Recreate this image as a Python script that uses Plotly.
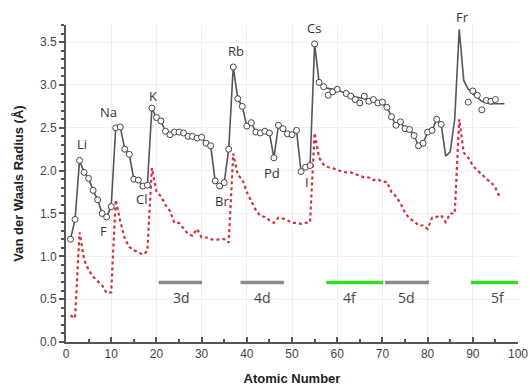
import plotly.graph_objects as go

# Atomic numbers with measured van der Waals radii (open circles)
z_meas = list(range(1, 61)) + list(range(62, 84)) + list(range(89, 96))
r_meas = [1.20, 1.43, 2.12, 1.98, 1.91, 1.77, 1.66, 1.50, 1.46, 1.58,
          2.50, 2.51, 2.25, 2.19, 1.90, 1.89, 1.82, 1.83,
          2.73, 2.62, 2.58, 2.46, 2.42, 2.45, 2.45, 2.44, 2.40, 2.40, 2.38, 2.39,
          2.32, 2.29, 1.88, 1.82, 1.86, 2.25,
          3.21, 2.84, 2.75, 2.52, 2.56, 2.45, 2.44, 2.46, 2.44, 2.15, 2.53, 2.49,
          2.43, 2.42, 2.47, 1.99, 2.04, 2.06,
          3.48, 3.03, 2.98, 2.88, 2.92, 2.95,
          2.90, 2.87, 2.83, 2.79, 2.87, 2.81, 2.83, 2.79, 2.80, 2.74,
          2.63, 2.53, 2.57, 2.49, 2.48, 2.41, 2.29, 2.32, 2.45,
          2.47, 2.60, 2.54,
          2.80, 2.93, 2.88, 2.71, 2.82, 2.81, 2.83]

# Solid curve
z_line = list(range(1, 98))
r_line = [1.20, 1.43, 2.12, 1.98, 1.91, 1.77, 1.66, 1.50, 1.46, 1.58,
          2.50, 2.51, 2.25, 2.19, 1.90, 1.89, 1.82, 1.83,
          2.73, 2.62, 2.58, 2.46, 2.42, 2.45, 2.45, 2.44, 2.40, 2.40, 2.38, 2.39,
          2.32, 2.29, 1.88, 1.82, 1.86, 2.25,
          3.21, 2.84, 2.75, 2.52, 2.56, 2.45, 2.44, 2.46, 2.44, 2.15, 2.53, 2.49,
          2.43, 2.42, 2.47, 1.99, 2.04, 2.06,
          3.48, 3.03, 2.98, 2.96, 2.95, 2.94, 2.92, 2.90, 2.88, 2.86, 2.85, 2.84,
          2.83, 2.82, 2.80, 2.78, 2.74,
          2.63, 2.53, 2.57, 2.49, 2.48, 2.41, 2.29, 2.32, 2.45,
          2.47, 2.60, 2.54, 2.17, 2.22, 2.60, 3.65, 3.05,
          2.95, 2.90, 2.85, 2.81, 2.79, 2.78, 2.78, 2.78, 2.78]

# Covalent radii (red dotted)
z_cov = list(range(1, 97))
r_cov = [0.31, 0.28, 1.28, 0.96, 0.84, 0.76, 0.71, 0.66, 0.57, 0.58,
         1.66, 1.41, 1.21, 1.11, 1.07, 1.05, 1.02, 1.06,
         2.03, 1.76, 1.70, 1.60, 1.53, 1.39, 1.39, 1.32, 1.26, 1.24, 1.32, 1.22,
         1.22, 1.20, 1.19, 1.20, 1.20, 1.16,
         2.20, 1.95, 1.90, 1.75, 1.64, 1.54, 1.47, 1.46, 1.42, 1.39, 1.45, 1.44,
         1.42, 1.39, 1.39, 1.38, 1.39, 1.40,
         2.44, 2.15, 2.07, 2.04, 2.03, 2.01, 1.99, 1.98, 1.98, 1.96, 1.94, 1.92,
         1.92, 1.89, 1.90, 1.87, 1.87,
         1.75, 1.70, 1.62, 1.51, 1.44, 1.41, 1.36, 1.36, 1.32,
         1.45, 1.46, 1.48, 1.40, 1.50, 1.50,
         2.60, 2.21, 2.15, 2.06, 2.00, 1.96, 1.90, 1.87, 1.80, 1.69]

# Element labels
lab_text = ["Li", "Na", "K", "Rb", "Cs", "Fr", "F", "Cl", "Br", "Pd", "I"]
lab_x = [3.5, 9.5, 19.3, 37.5, 54.9, 87.7, 8.4, 16.7, 34.6, 45.6, 53.3]
lab_y = [2.31, 2.68, 2.87, 3.40, 3.67, 3.79, 1.29, 1.67, 1.64, 1.97, 1.87]

# Shell bars
bar_names = ["3d", "4d", "4f", "5d", "5f"]
bar_start = [20.5, 38.6, 57.6, 70.6, 89.6]
bar_end = [30.1, 48.2, 70.2, 80.3, 100.0]
bar_colors = ["#8a8a8a", "#8a8a8a", "#33dd22", "#8a8a8a", "#33dd22"]
bar_label_x = [25.6, 43.4, 62.8, 75.4, 95.6]
bar_y = 0.695
bar_label_y = 0.52

Y_MAX = 3.7

fig = go.Figure()

fig.add_trace(go.Scatter(x=z_cov, y=r_cov, mode="lines",
                         line=dict(color="#d0303a", width=2.2, dash="dot"),
                         showlegend=False))
fig.add_trace(go.Scatter(x=z_line, y=r_line, mode="lines",
                         line=dict(color="#555555", width=1.6),
                         showlegend=False))
fig.add_trace(go.Scatter(x=z_meas, y=r_meas, mode="markers",
                         marker=dict(symbol="circle", size=6, color="white",
                                     line=dict(color="#444444", width=1)),
                         showlegend=False))

for s, e, c in zip(bar_start, bar_end, bar_colors):
    fig.add_trace(go.Scatter(x=[s, e], y=[bar_y, bar_y], mode="lines",
                             line=dict(color=c, width=3.5), showlegend=False))

for t, x, y in zip(bar_names, bar_label_x, [bar_label_y] * len(bar_names)):
    fig.add_annotation(x=x, y=y, text=t, showarrow=False,
                       font=dict(size=14, color="#444444", family="Open Sans"))

for t, x, y in zip(lab_text, lab_x, lab_y):
    if y > Y_MAX:
        # above the plotting area: place in paper coordinates so it is not hidden
        fig.add_annotation(x=x, y=y / Y_MAX, yref="paper", yanchor="middle",
                           text=t, showarrow=False,
                           font=dict(size=13, color="#333333", family="Open Sans"))
    else:
        fig.add_annotation(x=x, y=y, text=t, showarrow=False,
                           font=dict(size=13, color="#333333", family="Open Sans"))

fig.update_layout(
    width=530, height=388,
    margin=dict(l=66, r=12, t=25, b=46, autoexpand=False),
    paper_bgcolor="white", plot_bgcolor="white",
    font=dict(family="Liberation Sans, Arial, sans-serif", color="#444444"),
)
fig.update_xaxes(range=[0, 100], dtick=10, tick0=0, automargin=False,
                 showline=True, linecolor="#555555", linewidth=2,
                 ticks="inside", ticklen=5, tickcolor="#555555", tickwidth=1.5,
                 minor=dict(dtick=5, ticks="inside", ticklen=3, tickcolor="#555555", showgrid=False),
                 showgrid=True, gridcolor="#efefef", zeroline=False,
                 tickfont=dict(size=12, color="#444444"),
                 title=dict(text="<b>Atomic Number</b>", font=dict(size=13, color="#222222"), standoff=13))
fig.update_yaxes(range=[0, Y_MAX], dtick=0.5, tick0=0, tickformat=".1f", automargin=False,
                 showline=True, linecolor="#555555", linewidth=2,
                 ticks="outside", ticklen=5, tickcolor="#555555", tickwidth=1.5,
                 minor=dict(dtick=0.1, ticks="outside", ticklen=3, tickcolor="#555555", showgrid=False),
                 showgrid=True, gridcolor="#efefef", zeroline=False,
                 tickfont=dict(size=12, color="#444444"),
                 title=dict(text="<b>Van der Waals Radius (Å)</b>", font=dict(size=13, color="#222222"), standoff=13))

# remove the browser's default page margin so the 530x388 figure fills the window exactly
fig.write_html("out.html",
               config={"displayModeBar": False},
               post_script="document.body.style.margin='0';"
                           "document.documentElement.style.overflow='hidden';")
